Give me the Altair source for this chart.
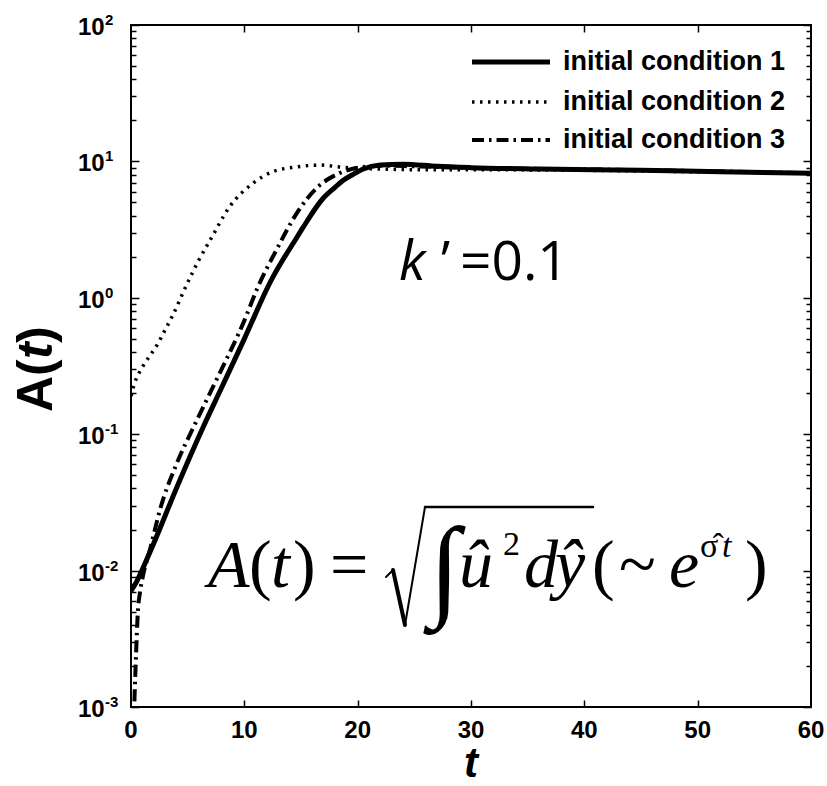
import altair as alt
import pandas as pd

# ---------------- data ----------------
t_ic1 = [0, 0.5, 1, 2, 4, 6.35, 8, 10, 12.4, 13.4, 14.3, 15.2, 16.9, 18, 18.7, 19.5, 20.5, 22, 24,
         27, 30, 36, 45, 52, 60]
a_ic1 = [0.0071, 0.0083, 0.0102, 0.0158, 0.040, 0.112, 0.22, 0.50, 1.36, 1.90, 2.5, 3.3, 5.3, 6.45,
         7.25, 7.95, 8.8, 9.4, 9.55, 9.2, 9.0, 8.8, 8.6, 8.4, 8.2]

t_ic2 = [0, 0.3, 0.7, 1.2, 1.8, 2.3, 3.0, 3.7, 4.9, 6.0, 7.0, 8.7, 10.8, 12.5, 14.6, 16.7, 18.4,
         20, 22, 25, 30, 40, 50, 60]
a_ic2 = [0.19, 0.235, 0.28, 0.33, 0.39, 0.45, 0.58, 0.75, 1.24, 1.9, 2.66, 4.65, 6.95, 8.4, 9.1,
         9.4, 9.1, 8.9, 8.8, 8.7, 8.7, 8.6, 8.4, 8.2]

t_ic3 = [0.3, 0.45, 0.6, 0.8, 1.05, 1.7, 2.56, 4, 5.5, 8, 10, 11.1, 12.9, 14.65, 16.4, 18.4, 20.5,
         22, 25, 30, 40, 50, 60]
a_ic3 = [0.0011, 0.0025, 0.0049, 0.007, 0.0091, 0.0145, 0.028, 0.060, 0.112, 0.30, 0.68, 1.15,
         2.3, 4.2, 6.4, 8.2, 9.1, 9.3, 9.2, 8.95, 8.75, 8.5, 8.2]

series_names = ["initial condition 1", "initial condition 2", "initial condition 3"]

y_major = [0.001, 0.01, 0.1, 1, 10, 100]
y_exponents = ["-3", "-2", "-1", "0", "1", "2"]
y_minor = [m * d for d in [0.001, 0.01, 0.1, 1, 10] for m in range(2, 10)]
x_tick_vals = [10, 20, 30, 40, 50]
x_label_vals = [0, 10, 20, 30, 40, 50, 60]

# ---------------- layout / style ----------------
W, H = 680, 682
SANS = "Liberation Sans"
SERIF = "Liberation Serif"
OPEN = "Open Sans"

x_scale = alt.Scale(domain=[0, 60], nice=False, zero=False)
y_scale = alt.Scale(type="log", domain=[0.001, 100], nice=False)

major_test = "indexof([0.001, 0.01, 0.1, 1, 10, 100], datum.value) >= 0"

def y_tick_axis(orient):
    # an axis placed on the opposite edge so that its ticks point into the plot
    return alt.Axis(orient=orient, offset=-W, values=y_major + y_minor, labels=False,
                    domain=False, grid=False, title="", tickColor="black", tickWidth=1.5,
                    tickSize={"condition": {"test": major_test, "value": 8}, "value": 5})

def x_tick_axis(orient):
    return alt.Axis(orient=orient, offset=-H, values=x_tick_vals, labels=False,
                    domain=False, grid=False, title="", tickColor="black", tickWidth=1.5,
                    tickSize=7)

def line_layer(t, a, dash, width, xaxis=None, yaxis=None):
    df = pd.DataFrame({"t": t, "A": a})
    kw = dict(color="black", strokeWidth=width, interpolate="monotone", clip=True, strokeCap="butt")
    if dash:
        kw["strokeDash"] = dash
    return alt.Chart(df).mark_line(**kw).encode(
        x=alt.X("t:Q", scale=x_scale, axis=xaxis),
        y=alt.Y("A:Q", scale=y_scale, axis=yaxis),
    )

styles = [([], 5), ([2.5, 5.5], 3.5), ([12, 5, 2.5, 5], 4)]

lines = [
    line_layer(t_ic2, a_ic2, styles[1][0], styles[1][1],
               xaxis=x_tick_axis("top"), yaxis=y_tick_axis("right")),
    line_layer(t_ic3, a_ic3, styles[2][0], styles[2][1],
               xaxis=x_tick_axis("bottom"), yaxis=y_tick_axis("left")),
    line_layer(t_ic1, a_ic1, styles[0][0], styles[0][1]),
]

# y tick labels: "10" with superscript exponent
ymaj = pd.DataFrame({"v": y_major, "e": y_exponents})
xl = pd.DataFrame({"v": x_label_vals})
ylab_base = alt.Chart(ymaj).mark_text(font=SANS, fontWeight="bold", fontSize=24, align="left",
                                      baseline="alphabetic", dy=10, color="black").encode(
    y=alt.Y("v:Q", scale=y_scale, axis=None), x=alt.value(-53), text=alt.value("10"))
ylab_exp = alt.Chart(ymaj).mark_text(font=SANS, fontWeight="bold", fontSize=15, align="left",
                                     baseline="alphabetic", dy=0, color="black").encode(
    y=alt.Y("v:Q", scale=y_scale, axis=None), x=alt.value(-26), text="e:N")

xlab = alt.Chart(xl).mark_text(font=SANS, fontWeight="bold", fontSize=24, align="center",
                               baseline="alphabetic", color="black").encode(
    x=alt.X("v:Q", scale=x_scale, axis=None), y=alt.value(H + 31), text="v:Q")

def txt(s, x, y, font=SANS, size=24, weight="normal", style="normal", angle=0, align="left",
        baseline="alphabetic"):
    kw = dict(font=font, fontSize=size, fontWeight=weight, fontStyle=style, align=align,
              baseline=baseline, color="black", text=s)
    if angle:
        kw["angle"] = angle
    return alt.Chart(pd.DataFrame({"d": [0]})).mark_text(**kw).encode(x=alt.value(x), y=alt.value(y))

def seg(x0, y0, x1, y1, width):
    return alt.Chart(pd.DataFrame({"d": [0]})).mark_rule(color="black", strokeWidth=width,
                                                         strokeCap="round").encode(
        x=alt.value(x0), y=alt.value(y0), x2=alt.value(x1), y2=alt.value(y1))

# axis titles
titles = [
    txt("t", W / 2, H + 70, size=42, weight="bold", style="italic", align="center"),
    txt("A(", -79, 387, size=50, weight="bold", angle=270),
    txt("t", -79, 334, size=50, weight="bold", style="italic", angle=270),
    txt(")", -79, 318, size=50, weight="bold", angle=270),
]

# legend (drawn inside the plot)
leg_rows = [37, 77, 115]
legend = []
for name, (dash, width), ry in zip(series_names, styles, leg_rows):
    kw = dict(color="black", strokeWidth=width, strokeCap="butt")
    if dash:
        kw["strokeDash"] = dash
    legend.append(alt.Chart(pd.DataFrame({"d": [0]})).mark_rule(**kw).encode(
        x=alt.value(341), x2=alt.value(419), y=alt.value(ry)))
    legend.append(txt(name, 432, ry, size=27, weight="bold", baseline="middle"))

# annotations
annots = [
    txt("k", 268, 255, font=OPEN, size=54, style="italic"),
    txt("\u2019", 310, 255, font=OPEN, size=54),
    txt("=0.1", 329, 255, font=OPEN, size=55),
]
FB = 562  # formula baseline
formula = [
    txt("A", 77, FB, font=SERIF, size=68, style="italic"),
    txt("(", 118, FB, font=SERIF, size=68),
    txt("t", 140, FB, font=SERIF, size=68, style="italic"),
    txt(")", 162, FB, font=SERIF, size=68),
    txt("=", 199, FB, font=SERIF, size=68),
    # radical sign
    seg(255, 552, 262, 545, 2),
    seg(262, 545, 274, 600, 4),
    seg(274, 600, 294, 482, 2),
    seg(294, 482, 462, 482, 2.5),
    txt("\u222b", 298, 580, font=SERIF, size=112),
    txt("\u00fb", 328, FB, font=SERIF, size=68, style="italic"),
    txt("2", 372, 530, font=SERIF, size=34),
    txt("d", 393, FB, font=SERIF, size=68, style="italic"),
    txt("\u0177", 424, FB, font=SERIF, size=68, style="italic"),
    txt("(", 461, FB, font=SERIF, size=68),
    txt("~", 488, FB, font=SERIF, size=68),
    txt("e", 538, FB, font=SERIF, size=68, style="italic"),
    txt("\u03c3\u0302", 569, 532, font=SERIF, size=34),
    txt("t", 591, 532, font=SERIF, size=34, style="italic"),
    txt(")", 614, FB, font=SERIF, size=68),
]

chart = alt.layer(
    *lines, ylab_base, ylab_exp, xlab, *titles, *legend, *annots, *formula
).resolve_axis(
    x="independent", y="independent"
).properties(
    width=W, height=H,
    autosize=alt.AutoSizeParams(type="none"),
    padding={"left": 131, "top": 25, "right": 16, "bottom": 79},
    background="white",
).configure_view(stroke="black", strokeWidth=2)

chart.save("out.html", embed_options={"renderer": "svg", "actions": False})
